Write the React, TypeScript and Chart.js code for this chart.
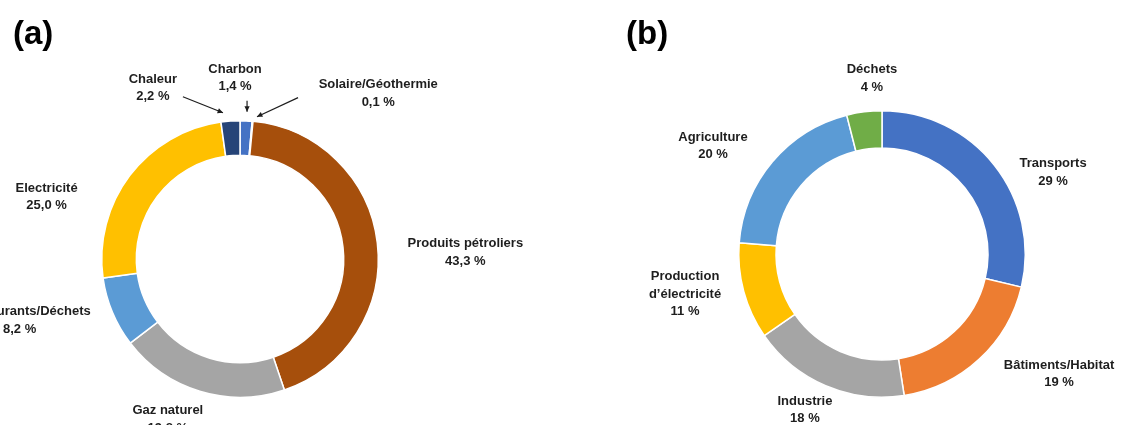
import React, { useEffect, useRef } from "react";
import { Chart, registerables } from "chart.js";

Chart.register(...registerables);

// ---- Data: chart (a) ----
const categoriesA = [
  "Charbon",
  "Solaire/Géothermie",
  "Produits pétroliers",
  "Gaz naturel",
  "Biocarburants/Déchets",
  "Electricité",
  "Chaleur",
];
const valuesA = [1.4, 0.1, 43.3, 19.8, 8.2, 25.0, 2.2];
const percentTextA = ["1,4 %", "0,1 %", "43,3 %", "19,8 %", "8,2 %", "25,0 %", "2,2 %"];
const colorsA = ["#4472C4", "#BDD7EE", "#A64F0C", "#A5A5A5", "#5B9BD5", "#FFC000", "#264478"];

// ---- Data: chart (b) ----
const categoriesB = [
  "Transports",
  "Bâtiments/Habitat",
  "Industrie",
  "Production\nd’électricité",
  "Agriculture",
  "Déchets",
];
const valuesB = [29, 19, 18, 11, 20, 4];
const percentTextB = ["29 %", "19 %", "18 %", "11 %", "20 %", "4 %"];
const colorsB = ["#4472C4", "#ED7D31", "#A5A5A5", "#FFC000", "#5B9BD5", "#70AD47"];

// ---- Layout (label offsets in units of the outer radius, relative to centre) ----
const labelOffsetsA: [number, number][] = [
  [-0.036, -1.308],
  [1.0, -1.196],
  [1.63, -0.047],
  [-0.522, 1.159],
  [-1.594, 0.446],
  [-1.399, -0.449],
  [-0.63, -1.236],
];
// arrows: [fromDx, fromDy, toDx, toDy] in radius units
const arrowsA: [number, number, number, number][] = [
  [-0.413, -1.174, -0.123, -1.058],
  [0.051, -1.145, 0.051, -1.065],
  [0.42, -1.167, 0.123, -1.029],
];
const labelOffsetsB: [number, number][] = [
  [1.194, -0.569],
  [1.236, 0.838],
  [-0.538, 1.089],
  [-1.375, 0.279],
  [-1.18, -0.754],
  [-0.07, -1.225],
];

const LABEL_FONT = 'bold 13px "Liberation Sans", Arial, sans-serif';
const TITLE_FONT = 'bold 33px "Liberation Sans", Arial, sans-serif';
const LINE_H = 17.5;
const TEXT_COLOR = "#1e1e1e";

function makeLabelPlugin(
  categories: string[],
  percents: string[],
  offsets: [number, number][],
  arrows: [number, number, number, number][],
  title: string,
  titleX: number,
  titleY: number
) {
  return {
    id: "sliceLabels",
    afterDraw(chart: any) {
      const ctx = chart.ctx as CanvasRenderingContext2D;
      const meta = chart.getDatasetMeta(0);
      const arc0 = meta.data[0] as any;
      const cx = arc0.x;
      const cy = arc0.y;
      const r = arc0.outerRadius;
      ctx.save();
      ctx.fillStyle = TEXT_COLOR;
      ctx.strokeStyle = TEXT_COLOR;
      ctx.font = LABEL_FONT;
      ctx.textAlign = "center";
      ctx.textBaseline = "middle";
      categories.forEach((cat, i) => {
        const lines = [...cat.split("\n"), percents[i]];
        const [dx, dy] = offsets[i];
        const x = cx + dx * r;
        const y = cy + dy * r;
        const n = lines.length;
        lines.forEach((ln, j) => {
          ctx.fillText(ln, x, y + (j - (n - 1) / 2) * LINE_H);
        });
      });
      ctx.lineWidth = 1.2;
      arrows.forEach(([fx, fy, tx, ty]) => {
        const x1 = cx + fx * r;
        const y1 = cy + fy * r;
        const x2 = cx + tx * r;
        const y2 = cy + ty * r;
        const ang = Math.atan2(y2 - y1, x2 - x1);
        ctx.beginPath();
        ctx.moveTo(x1, y1);
        ctx.lineTo(x2, y2);
        ctx.stroke();
        const hl = 6;
        const hw = 0.45;
        ctx.beginPath();
        ctx.moveTo(x2, y2);
        ctx.lineTo(x2 - hl * Math.cos(ang - hw), y2 - hl * Math.sin(ang - hw));
        ctx.lineTo(x2 - hl * Math.cos(ang + hw), y2 - hl * Math.sin(ang + hw));
        ctx.closePath();
        ctx.fill();
      });
      ctx.font = TITLE_FONT;
      ctx.textAlign = "left";
      ctx.textBaseline = "alphabetic";
      ctx.fillStyle = "#000";
      ctx.fillText(title, titleX, titleY);
      ctx.restore();
    },
  };
}

function Doughnut(props: {
  width: number;
  height: number;
  left: number;
  labels: string[];
  values: number[];
  colors: string[];
  padding: { left: number; right: number; top: number; bottom: number };
  cutout: string;
  plugin: any;
}) {
  const ref = useRef<HTMLCanvasElement | null>(null);
  useEffect(() => {
    if (!ref.current) return;
    const chart = new Chart(ref.current, {
      type: "doughnut",
      data: {
        labels: props.labels,
        datasets: [
          {
            data: props.values,
            backgroundColor: props.colors,
            borderColor: "#ffffff",
            borderWidth: 1.5,
          },
        ],
      },
      options: {
        responsive: false,
        animation: false,
        cutout: props.cutout,
        rotation: 0,
        layout: { padding: props.padding },
        plugins: {
          legend: { display: false },
          tooltip: { enabled: false },
          title: { display: false },
        },
      },
      plugins: [props.plugin],
    });
    return () => chart.destroy();
  }, []);
  return (
    <canvas
      ref={ref}
      width={props.width}
      height={props.height}
      style={{
        position: "absolute",
        left: props.left,
        top: 0,
        width: props.width,
        height: props.height,
        display: "block",
      }}
    />
  );
}

export default function App() {
  const pluginA = makeLabelPlugin(categoriesA, percentTextA, labelOffsetsA, arrowsA, "(a)", 13, 44);
  const pluginB = makeLabelPlugin(categoriesB, percentTextB, labelOffsetsB, [], "(b)", 66, 44);
  return (
    <div
      style={{
        position: "absolute",
        left: 0,
        top: 0,
        width: 1125,
        height: 425,
        background: "#fff",
        overflow: "hidden",
      }}
    >
      <Doughnut
        width={560}
        height={425}
        left={0}
        labels={categoriesA}
        values={valuesA}
        colors={colorsA}
        padding={{ left: 101, right: 181, top: 120, bottom: 27 }}
        cutout="75%"
        plugin={pluginA}
      />
      <Doughnut
        width={565}
        height={425}
        left={560}
        labels={categoriesB}
        values={valuesB}
        colors={colorsB}
        padding={{ left: 178, right: 99, top: 110, bottom: 27 }}
        cutout="74%"
        plugin={pluginB}
      />
    </div>
  );
}
